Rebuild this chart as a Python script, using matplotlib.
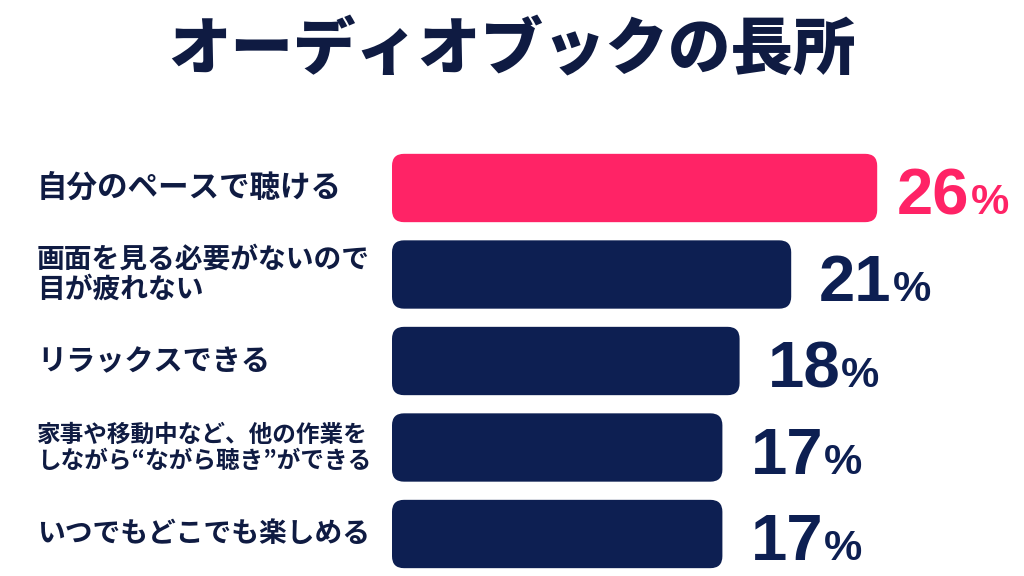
import matplotlib.pyplot as plt
from matplotlib.patches import FancyBboxPatch

# data
labels = [
    "自分のペースで聴ける",
    "画面を見る必要がないので\n目が疲れない",
    "リラックスできる",
    "家事や移動中など、他の作業を\nしながら“ながら聴き”ができる",
    "いつでもどこでも楽しめる",
]
values = [26, 21, 18, 17, 17]
title = "オーディオブックの長所"

# styling
label_sizes = [22, 20, 21, 17, 20]
pink = "#ff2366"
navy = "#0d1f52"
text_navy = "#0f1b42"
colors = [pink] + [navy] * 4

plt.rcParams['font.family'] = ['Noto Sans CJK JP', 'DejaVu Sans']
num_font = ['Liberation Sans', 'DejaVu Sans']

fig = plt.figure(figsize=(10.24, 5.76), dpi=100)
fig.patch.set_facecolor("white")

W, H = 1024, 576
bar_left = 392       # px where bars begin
origin = 430         # px of value 0
px_per_unit = 17.2
row_px = 86.5
first_center = 188.0

ax = fig.add_axes([bar_left / W, 0, 1 - bar_left / W, 1])
xmin = (bar_left - origin) / px_per_unit
ax.set_xlim(xmin, xmin + (W - bar_left) / px_per_unit)
ax.set_ylim((H - first_center) / row_px, -first_center / row_px)
ax.axis("off")

bar_h = 0.79
radius_px = 12
aspect = px_per_unit / row_px
for i, (v, c) in enumerate(zip(values, colors)):
    box = FancyBboxPatch((xmin, i - bar_h / 2), v - xmin, bar_h,
                         boxstyle=f"round,pad=0,rounding_size={radius_px / px_per_unit}",
                         mutation_aspect=aspect, facecolor=c, edgecolor="none")
    ax.add_patch(box)

fig.canvas.draw()
renderer = fig.canvas.get_renderer()
for i, (v, c) in enumerate(zip(values, colors)):
    ybase = i + 26 / row_px
    gap = 20 if i == 0 else 28
    t = ax.annotate(str(v), xy=(v, ybase), xytext=(gap, 0), textcoords="offset pixels",
                    ha="left", va="baseline", fontsize=47, fontweight="bold",
                    family=num_font, color=c)
    bb = t.get_window_extent(renderer)
    ax.annotate("%", xy=(v, ybase), xytext=(gap + bb.width + 1, 0), textcoords="offset pixels",
                ha="left", va="baseline", fontsize=31, fontweight="bold",
                family=num_font, color=c)

# category labels
for i, lab in enumerate(labels):
    yc = first_center + row_px * i
    fig.text(37 / W, 1 - yc / H, lab, ha="left", va="center", fontsize=label_sizes[i],
             fontweight="bold", color=text_navy, linespacing=1.12)

fig.text(0.5, 1 - 50 / H, title, ha="center", va="center", fontsize=45,
         fontweight="heavy", color=text_navy)

fig.savefig("out.png", dpi=100)
